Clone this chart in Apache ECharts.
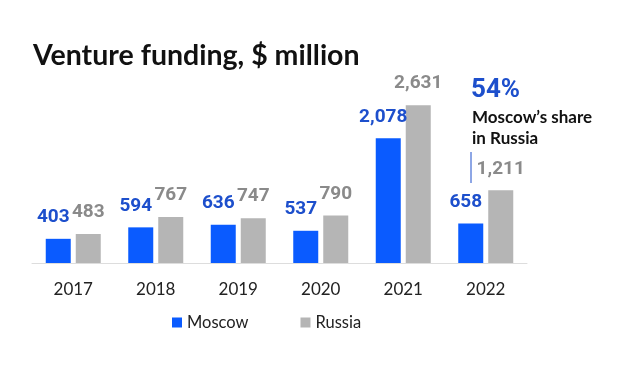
<!DOCTYPE html>
<html><head><meta charset="utf-8">
<script src="https://cdn.jsdelivr.net/npm/echarts@6/dist/echarts.min.js"></script>
<style>html,body{margin:0;padding:0;background:#fff}#c{width:620px;height:381px}</style>
</head><body><div id="c"></div>
<script>
const years = ['2017','2018','2019','2020','2021','2022'];
const moscow = [403, 594, 636, 537, 2078, 658];
const russia = [483, 767, 747, 790, 2631, 1211];
const chart = echarts.init(document.getElementById('c'));
const fmt = p => p.value.toLocaleString('en-US');
chart.setOption({
  animation: false,
  title: { text: 'Venture funding, $ million', left: 28, top: 36,
    textStyle: { fontFamily: 'Lato', fontWeight: 'bold', fontSize: 28.5, color: '#111' } },
  legend: { top: 309, left: 167, itemWidth: 10, itemHeight: 10, itemGap: 52,
    icon: 'rect', textStyle: { fontFamily: 'Lato', fontSize: 16.5, color: '#222' } },
  grid: { left: 32, right: 93, top: 83, bottom: 118 },
  xAxis: { type: 'category', data: years,
    axisLine: { lineStyle: { color: '#ddd', width: 1 } }, axisTick: { show: false },
    axisLabel: { fontFamily: 'Lato', fontSize: 17, color: '#222', margin: 18 } },
  yAxis: { type: 'value', min: 0, max: 3000, show: false, splitLine: { show: false } },
  series: [
    { name: 'Moscow', type: 'bar', data: moscow, barWidth: 25, barGap: '20%',
      itemStyle: { color: '#0a5bff' },
      label: { show: true, position: 'top', distance: 12, offset: [-5, 0], formatter: fmt,
        fontFamily: 'Roboto', fontWeight: 'bold', fontSize: 19, color: '#1d4fcc' } },
    { name: 'Russia', type: 'bar', data: russia, barWidth: 25,
      itemStyle: { color: '#b5b5b5' },
      label: { show: true, position: 'top', distance: 12, formatter: fmt,
        fontFamily: 'Roboto', fontWeight: 'bold', fontSize: 19, color: '#8a8a8a' } }
  ],
  graphic: [
    { type: 'text', left: 471, top: 77, style: { text: '54%', fontFamily: 'Roboto', fontWeight: 'bold', fontSize: 26, fill: '#1d4fcc' } },
    { type: 'text', left: 472, top: 107, style: { text: 'Moscow\u2019s share\nin Russia', fontFamily: 'Lato', fontWeight: 'bold', fontSize: 17, lineHeight: 21, fill: '#111' } },
    { type: 'line', shape: { x1: 471, y1: 152, x2: 471, y2: 183 }, style: { stroke: '#1d4fcc', lineWidth: 1 } }
  ]
});
</script></body></html>
